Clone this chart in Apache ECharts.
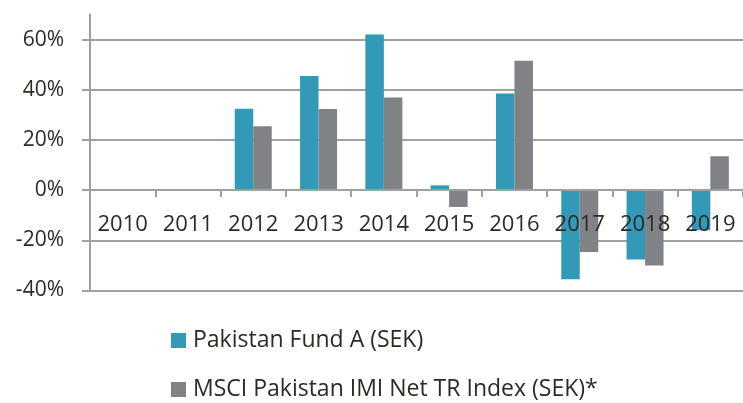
<!DOCTYPE html>
<html><head><meta charset="utf-8">
<script src="https://cdn.jsdelivr.net/npm/echarts@6/dist/echarts.min.js"></script>
<style>html,body{margin:0;padding:0;background:#fff}#c{width:743px;height:403px}</style>
</head><body><div id="c"></div>
<script>
const categories = ['2010','2011','2012','2013','2014','2015','2016','2017','2018','2019'];
const fundName = 'Pakistan Fund A (SEK)';
const indexName = 'MSCI Pakistan IMI Net TR Index (SEK)*';
const fundValues = [null, null, 32.4, 45.5, 62, 1.9, 38.5, -35.5, -27.6, -16];
const indexValues = [null, null, 25.5, 32.3, 36.9, -6.7, 51.6, -24.7, -30, 13.5];
const yMin = -40, yMax = 70, yStep = 20;

const FONT = 'Open Sans';
const legendBase = {
  orient: 'horizontal', left: 171, itemWidth: 15, itemHeight: 15, icon: 'rect',
  padding: 0, textStyle: {fontFamily: FONT, fontSize: 23, color: '#2d2a26', padding: [0,0,0,2]}
};
const chart = echarts.init(document.getElementById('c'), null, {renderer:'canvas'});
chart.setOption({
  animation: false,
  textStyle: {fontFamily: FONT},
  grid: {left: 90, top: 14.5, width: 656, bottom: 112.5, containLabel: false},
  legend: [
    Object.assign({}, legendBase, {top: 329, data: [fundName]}),
    Object.assign({}, legendBase, {top: 378, data: [indexName]})
  ],
  xAxis: {
    type: 'category', data: categories, z: 10,
    position: 'bottom', offset: -100.5,
    axisLine: {onZero: false, lineStyle: {color: '#a0a0a0', width: 2}},
    axisTick: {show: true, alignWithLabel: false, length: 7, lineStyle: {color: '#a0a0a0', width: 2}},
    axisLabel: {fontFamily: FONT, fontSize: 22, color: '#2d2a26', margin: 24, interval: 0}
  },
  yAxis: {
    type: 'value', min: yMin, max: yMax, interval: yStep,
    axisLine: {show: true, lineStyle: {color: '#a0a0a0', width: 2}},
    axisTick: {show: true, length: 8, lineStyle: {color: '#a0a0a0', width: 2}},
    axisLabel: {fontFamily: FONT, fontSize: 21, color: '#2d2a26', margin: 26, showMaxLabel: false,
      formatter: v => v === yMax ? '' : v + '%'},
    splitLine: {show: true, showMaxLine: false, lineStyle: {color: '#a0a0a0', width: 2}}
  },
  series: [
    {name: fundName, type: 'bar', data: fundValues, barWidth: 18.5, barGap: '0%',
      itemStyle: {color: '#3399b9'}},
    {name: indexName, type: 'bar', data: indexValues, barWidth: 18.5, barGap: '0%',
      itemStyle: {color: '#808285'}}
  ]
});
</script></body></html>
